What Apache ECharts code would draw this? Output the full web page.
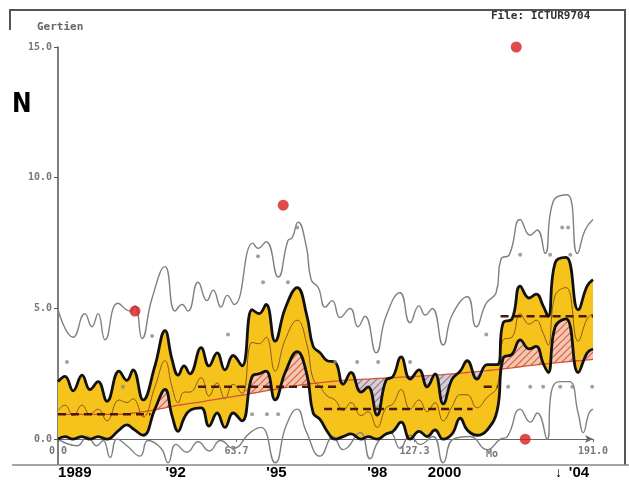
<!DOCTYPE html>
<html><head><meta charset="utf-8">
<script src="https://cdn.jsdelivr.net/npm/echarts@6.0.0/dist/echarts.min.js"></script>
<style>html,body{margin:0;padding:0;background:#fff}#c{width:629px;height:480px}</style>
</head><body><div id="c"></div>
<script>
// ---- data (months since Jan 1989) ----
const bandMonths = [0,2.5,5.4,8.6,11.4,14.3,17.5,21.8,24.6,26.8,30.4,34.6,38.2,40.7,42.9,45,47.1,51.1,53.9,56.8,59.6,62.5,65.7,69.3,71.8,74.3,77.5,81.1,85.4,88.9,91.1,93.6,96.1,98.9,101.8,104.6,108.2,110.7,113.9,117.1,119.6,122.5,125.7,128.9,131.8,134.6,137.5,140.7,143.6,146.1,149.6,153.2,156.8,158.9,162.1,165,168.2,170.7,173.2,175,177.5,181.4,185.7,188.9,191];
const upperBand = [2.2,2.4,1.85,2.45,1.9,2.2,1.45,2.6,2.25,2.65,1.5,2.8,4.15,3.05,2.45,2.8,2.5,3.5,2.8,3.3,2.65,3.2,2.8,4.95,4.8,5.15,3.75,5.0,5.8,4.7,3.55,3.3,3.0,2.95,2.1,2.55,1.8,2.0,0.92,2.25,2.4,3.15,2.3,2.65,2.0,2.5,1.35,2.3,2.6,3.0,2.3,2.85,2.85,4.45,4.6,5.85,5.4,5.55,5.1,4.7,6.75,6.95,4.95,5.85,6.1];
const lowerBand = [0.0,0.1,0.0,0.1,0.0,0.1,0.0,0.35,0.55,0.4,0.15,1.15,1.9,0.9,0.3,0.8,1.1,1.2,0.5,1.0,0.45,1.0,0.7,2.4,2.5,2.6,1.5,2.55,3.35,2.45,1.0,0.75,0.3,0.0,0.1,0.2,0.0,0.1,0.0,0.2,0.3,0.65,0.0,0.3,0.1,0.35,0.0,0.2,0.8,0.35,0.15,0.35,1.1,3.1,3.25,3.8,3.45,3.55,2.9,2.55,4.3,4.6,2.55,3.3,3.45];
const midLine = [1.1,1.3,0.9,1.3,0.95,1.15,0.7,1.5,1.4,1.55,0.85,2.0,3.0,2.0,1.4,1.8,1.8,2.35,1.65,2.15,1.55,2.1,1.75,3.7,3.65,3.9,2.6,3.8,4.55,3.6,2.3,2.0,1.65,1.5,1.1,1.4,0.9,1.05,0.45,1.2,1.35,1.9,1.15,1.5,1.05,1.4,0.7,1.25,1.7,1.7,1.2,1.6,2.0,3.8,3.9,4.8,4.4,4.55,4.05,3.6,5.5,5.8,3.75,4.6,4.8];
const refLine = [0.95,0.95,0.95,0.95,0.95,0.95,0.95,0.95,0.97,1.0,1.05,1.12,1.2,1.25,1.3,1.33,1.37,1.43,1.48,1.53,1.58,1.63,1.68,1.75,1.8,1.85,1.9,1.97,2.05,2.1,2.13,2.16,2.19,2.22,2.25,2.27,2.29,2.3,2.32,2.34,2.35,2.37,2.39,2.41,2.43,2.45,2.47,2.5,2.52,2.55,2.58,2.62,2.66,2.69,2.73,2.77,2.81,2.84,2.87,2.89,2.92,2.96,3.0,3.03,3.05];

const upperGrayMonths = [0,5.4,9.6,12.1,14.3,16.8,21.4,25.7,27.5,30,33.6,38.2,41.8,44.3,46.4,50,53.2,55.4,58.2,60.4,62.9,69.6,71.4,74.3,78.6,82.1,83.6,85.7,88.6,90.4,92.9,95.4,97.9,100.7,104.3,107.1,109.6,113.6,117.1,122.1,125.7,128.9,131.1,133.6,137.5,140.7,146.1,149.3,152.9,156.4,158.2,161.1,165,168.6,171.1,173.9,176.8,181.8,185.4,188.2,191];
const upperGray = [4.95,3.9,4.8,4.3,4.8,3.8,5.2,4.9,5.1,3.85,5.4,6.6,4.9,5.15,4.9,6.0,5.3,5.7,5.05,5.5,5.15,7.5,7.3,7.55,6.2,7.6,7.7,8.3,7.4,6.1,5.8,5.05,5.3,4.65,5.0,4.3,4.7,3.3,4.7,5.6,4.45,5.1,4.75,5.0,3.6,4.75,5.45,4.3,5.2,5.6,6.9,7.05,8.4,7.8,8.0,7.1,9.1,9.35,7.1,8.0,8.4];

const lowerGrayMonths = [0,6.8,10.4,13.9,16.1,18.6,21.1,24.6,29.3,32.1,36.8,39.3,42.1,46,50,54,58,62.5,68.6,72.5,77.5,81.4,85.4,88.6,93.6,98.2,101.8,107.9,111.4,114.3,118.6,122.1,125.7,129.3,133.9,137.5,141.1,147.1,153.2,157.9,160.4,165,168.6,171.1,174.6,176.1,178.9,182.5,185.7,187.5,189.6,191];
const lowerGray = [0.0,-0.25,0.1,-0.25,-0.05,-0.7,0.0,-0.25,-0.65,-0.05,-0.35,-0.9,-0.2,-0.5,-0.1,-0.45,-0.05,-0.35,0.25,0.45,-0.9,0.5,1.15,0.3,-0.65,0.1,-0.4,0.25,-0.75,-0.1,0.25,-0.35,0.15,-0.2,0.1,-0.9,0.0,0.1,-0.4,0.0,0.1,1.15,0.65,1.0,0.0,1.8,2.2,2.2,1.0,0.25,1.0,1.15];

const baseStart = [0,50,95,152,158];
const baseEnd   = [33,100,148,157,191];
const baseLevel = [0.95,2.0,1.15,2.0,4.7];

const dotMonths = [3.2,23.2,33.6,60.7,71.4,73.2,82.1,85.4,69.3,74.6,78.6,98.9,106.8,114.3,125.7,152.9,160.7,168.6,173.2,179.3,183.6,190.7,165,175.7,182.9,180,182.1];
const dotValues = [2.95,2.0,3.95,4.0,7.0,6.0,6.0,8.1,0.95,0.95,0.95,2.95,2.95,2.95,2.95,4.0,2.0,2.0,2.0,2.0,2.0,2.0,7.05,7.05,7.05,8.1,8.1];

const redMonths = [27.5,80.4,163.6,166.8];
const redValues = [4.9,8.95,15.0,0.0];

const yTicks = [0,5,10,15];
const xTicks = [0,63.7,127.3,191.0];
const yearMonths = [6,42,78,114,138,186];
const yearLabels = ['1989',"'92","'95","'98",'2000',"'04"];

// ---- helpers ----
const pair = (xs, ys) => xs.map((x,i)=>[x, ys[i]]);
// stacked series: value first so the stack runs on the y dimension
const vpair = (xs, ys) => xs.map((x,i)=>[ys[i], x]);
function hatch(bg, fg){
  const c=document.createElement('canvas'); c.width=7; c.height=7;
  const g=c.getContext('2d'); g.fillStyle=bg; g.fillRect(0,0,7,7);
  g.strokeStyle=fg; g.lineWidth=1.2; g.beginPath();
  g.moveTo(0,7); g.lineTo(7,0); g.moveTo(-2,2); g.lineTo(2,-2); g.moveTo(5,9); g.lineTo(9,5); g.stroke();
  return c;
}
const baseData=[];
baseStart.forEach((s,i)=>{ if(i>0) baseData.push([s,'-']); baseData.push([s,baseLevel[i]]); baseData.push([baseEnd[i],baseLevel[i]]); });

const bandDiff = upperBand.map((u,i)=>u-lowerBand[i]);
const pinkDiff = lowerBand.map((l,i)=>Math.max(l-refLine[i],0));
const blueBase = upperBand.map((u,i)=>Math.min(u,refLine[i]));
const blueDiff = upperBand.map((u,i)=>Math.max(refLine[i]-u,0));

const SM = 0.45;
const hidden = {type:'line', symbol:'none', smooth:SM, silent:true, encode:{x:1,y:0}, lineStyle:{opacity:0}};
const chart = echarts.init(document.getElementById('c'));
chart.setOption({
  animation:false,
  backgroundColor:'#fff',
  grid:{left:58,right:36,top:47,bottom:15,containLabel:false},
  xAxis:[{
    type:'value',min:0,max:191,offset:-25,
    axisLine:{show:true,onZero:false,symbol:['none','arrow'],symbolSize:[6,8],lineStyle:{color:'#666',width:1.2}},
    axisTick:{show:true,customValues:xTicks,length:3,lineStyle:{color:'#666'}},
    axisLabel:{customValues:xTicks,formatter:v=>v.toFixed(1),color:'#777',fontFamily:'DejaVu Sans Mono',fontWeight:'bold',fontSize:10,margin:7},
    splitLine:{show:false}
  },{
    type:'value',min:0,max:191,position:'bottom',
    axisLine:{show:false,onZero:false},axisTick:{show:false},splitLine:{show:false},
    axisLabel:{customValues:yearMonths,formatter:v=>yearLabels[yearMonths.indexOf(v)],color:'#000',fontFamily:'Liberation Sans',fontWeight:'bold',fontSize:15,margin:1}
  }],
  yAxis:{
    type:'value',min:-0.95,max:15,
    axisLine:{show:true,onZero:false,lineStyle:{color:'#555',width:1.5}},
    axisTick:{show:true,customValues:yTicks,length:4,lineStyle:{color:'#555'}},
    axisLabel:{customValues:yTicks,formatter:v=>v.toFixed(1),color:'#777',fontFamily:'DejaVu Sans Mono',fontWeight:'bold',fontSize:10,margin:6},
    splitLine:{show:false}
  },
  graphic:[
    {type:'polyline',shape:{points:[[10,30],[10,10],[625,10],[625,465]]},style:{stroke:'#555',lineWidth:2,fill:null},silent:true},
    {type:'line',shape:{x1:12,y1:465,x2:629,y2:465},style:{stroke:'#888',lineWidth:1.5},silent:true},
    {type:'text',left:12,top:92,style:{text:'N',font:'bold 26px "Liberation Sans Narrow","DejaVu Sans Condensed",sans-serif',fill:'#000'}},
    {type:'text',left:37,top:22,style:{text:'Gertien',font:'bold 11px "DejaVu Sans Mono",monospace',fill:'#666'}},
    {type:'text',left:491,top:11,style:{text:'File: ICTUR9704',font:'bold 11px "DejaVu Sans Mono",monospace',fill:'#333'}},
    {type:'text',left:486,top:449,style:{text:'Mo',font:'bold 10px "DejaVu Sans Mono",monospace',fill:'#777'}},
    {type:'text',left:555,top:466,style:{text:'↓',font:'bold 14px "Liberation Sans",sans-serif',fill:'#000'}}
  ],
  series:[
    Object.assign({},hidden,{name:'bandBase',stack:'band',z:2,data:vpair(bandMonths,lowerBand)}),
    Object.assign({},hidden,{name:'band',stack:'band',z:2,data:vpair(bandMonths,bandDiff),areaStyle:{color:'#f6c21c',opacity:1}}),
    Object.assign({},hidden,{name:'pinkBase',stack:'pink',z:2,data:vpair(bandMonths,refLine)}),
    Object.assign({},hidden,{name:'pink',stack:'pink',z:2,data:vpair(bandMonths,pinkDiff),areaStyle:{color:{image:hatch('#f5c7b3','#d8613f'),repeat:'repeat'},opacity:1}}),
    Object.assign({},hidden,{name:'blueBase',stack:'blue',z:2,data:vpair(bandMonths,blueBase)}),
    Object.assign({},hidden,{name:'blue',stack:'blue',z:2,data:vpair(bandMonths,blueDiff),areaStyle:{color:{image:hatch('#c8d2e2','#c46a5c'),repeat:'repeat'},opacity:1}}),
    {type:'line',name:'mid',symbol:'none',smooth:SM,z:3,data:pair(bandMonths,midLine),lineStyle:{color:'#8a5a1a',width:1}},
    {type:'line',name:'ref',symbol:'none',smooth:SM,z:3,data:pair(bandMonths,refLine),lineStyle:{color:'#d0553a',width:1.3}},
    {type:'line',name:'base',symbol:'none',z:4,data:baseData,connectNulls:false,lineStyle:{color:'#4a1808',width:2.5,type:[8,5]}},
    {type:'line',name:'upper',symbol:'none',smooth:SM,z:5,data:pair(bandMonths,upperBand),lineStyle:{color:'#111',width:2.8}},
    {type:'line',name:'lower',symbol:'none',smooth:SM,z:5,data:pair(bandMonths,lowerBand),lineStyle:{color:'#111',width:2.8}},
    {type:'line',name:'ugray',symbol:'none',smooth:0.5,z:4,data:pair(upperGrayMonths,upperGray),lineStyle:{color:'#808080',width:1.4}},
    {type:'line',name:'lgray',symbol:'none',smooth:0.5,z:4,data:pair(lowerGrayMonths,lowerGray),lineStyle:{color:'#808080',width:1.4}},
    {type:'scatter',name:'dots',symbolSize:4,z:6,data:pair(dotMonths,dotValues),itemStyle:{color:'#8a8a8a'}},
    {type:'scatter',name:'red',symbolSize:11,z:7,data:pair(redMonths,redValues),itemStyle:{color:'#d41e1e'}}
  ]
});
</script></body></html>
